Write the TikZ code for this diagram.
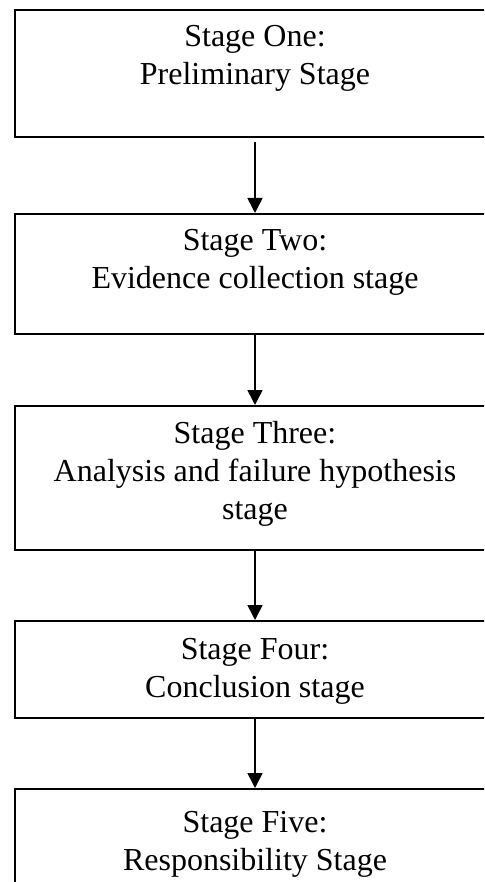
\documentclass[tikz,border=0pt]{standalone}
\usepackage{fontspec}
\setmainfont{Liberation Serif}
\usetikzlibrary{arrows.meta}
\begin{document}
\begin{tikzpicture}[x=1pt,y=-1pt,
  stagebox/.style={draw=black, line width=2pt, rectangle, inner sep=0pt,
    minimum width=480pt, anchor=north west},
  stagetext/.style={anchor=north, inner sep=0pt, align=center,
    font=\fontsize{32}{38}\selectfont},
  flow/.style={line width=1.6pt, -{Triangle[width=15pt,length=15pt]}}]
  \clip (0,0) rectangle (484,882);
  \fill[white] (0,0) rectangle (484,882);
  % stage boxes
  \node[stagebox, minimum height=127pt] (s1) at (14,9) {};
  \node[stagebox, minimum height=120pt] (s2) at (14,213) {};
  \node[stagebox, minimum height=144pt] (s3) at (14,405) {};
  \node[stagebox, minimum height=97pt]  (s4) at (14,620) {};
  \node[stagebox, minimum height=140pt] (s5) at (14,788) {};
  % labels
  \node[stagetext] (t1) at ([yshift=-16pt]s1.north) {Stage One:\\Preliminary Stage};
  \node[stagetext] (t2) at ([yshift=-16pt]s2.north) {Stage Two:\\Evidence collection stage};
  \node[stagetext] (t3) at ([yshift=-16pt]s3.north) {Stage Three:\\Analysis and failure hypothesis\\stage};
  \node[stagetext] (t4) at ([yshift=-18pt]s4.north) {Stage Four:\\Conclusion stage};
  \node[stagetext] (t5) at ([yshift=-23pt]s5.north) {Stage Five:\\Responsibility Stage};
  % connectors
  \draw[flow, shorten <=4pt] (s1.south) -- (s2.north);
  \draw[flow] (s2.south) -- (s3.north);
  \draw[flow] (s3.south) -- (s4.north);
  \draw[flow] (s4.south) -- (s5.north);
\end{tikzpicture}
\end{document}
